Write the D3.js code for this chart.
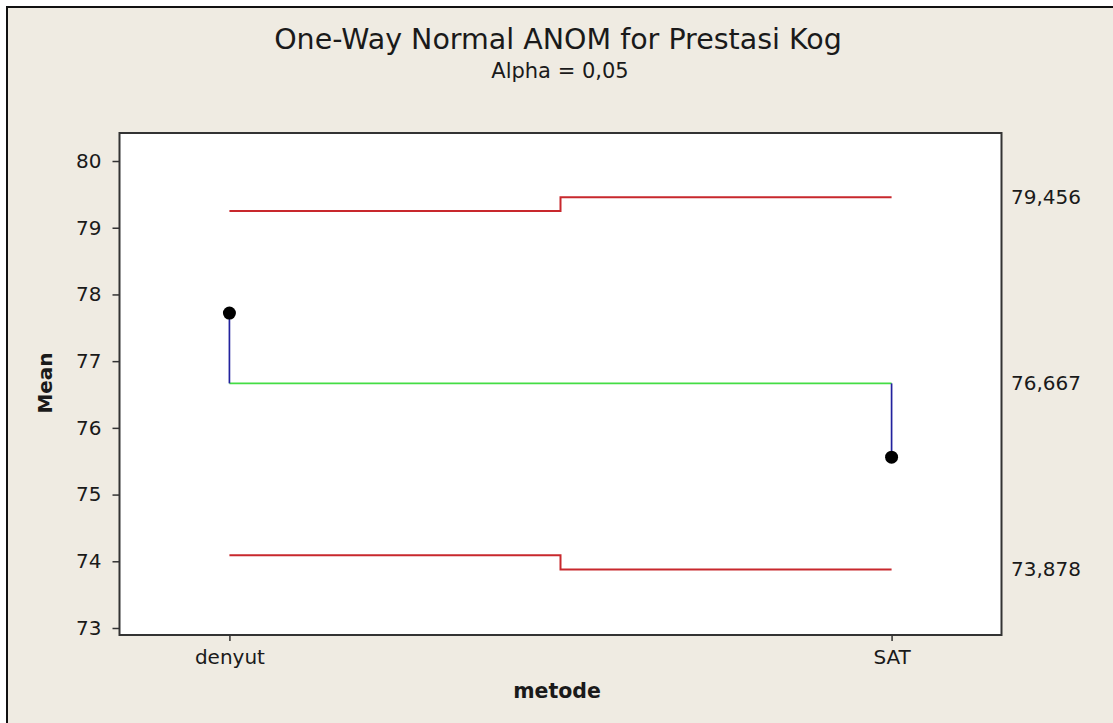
<!DOCTYPE html>
<html>
<head>
<meta charset="utf-8">
<script src="https://cdn.jsdelivr.net/npm/d3@7"></script>
<style>
  html, body { margin: 0; padding: 0; background: #ffffff; }
  svg { display: block; }
  text { font-family: "DejaVu Sans", Verdana, sans-serif; fill: #1a1a1a; }
</style>
</head>
<body>
<svg id="chart" width="1113" height="723"></svg>
<script>
// ---- data ----
const categories = ["denyut", "SAT"];
const means = [77.72, 75.56];
const centerLine = 76.667;
const upperLimits = [79.25, 79.456];
const lowerLimits = [74.09, 73.878];
const yTicks = [73, 74, 75, 76, 77, 78, 79, 80];
const rightLabelValues = [79.456, 76.667, 73.878];
const rightLabelTexts = ["79,456", "76,667", "73,878"];
const titleText = "One-Way Normal ANOM for Prestasi Kog";
const subtitleText = "Alpha = 0,05";
const xLabel = "metode";
const yLabel = "Mean";

// ---- layout ----
const W = 1113, H = 723;
const plot = { left: 119.5, right: 1001.5, top: 133, bottom: 635 };

const svg = d3.select("#chart");

// background
svg.append("rect").attr("x", 7).attr("y", 7).attr("width", W - 7).attr("height", H - 7)
  .attr("fill", "#efebe2");
// outer frame (top & left)
svg.append("path").attr("d", `M7,${H} L7,7 L${W},7`)
  .attr("fill", "none").attr("stroke", "#111").attr("stroke-width", 2);

const x = d3.scalePoint().domain(categories).range([plot.left, plot.right]).padding(0.166);
const y = d3.scaleLinear().domain([72.895, 80.42]).range([plot.bottom, plot.top]);

// plot area
svg.append("rect")
  .attr("x", plot.left).attr("y", plot.top)
  .attr("width", plot.right - plot.left).attr("height", plot.bottom - plot.top)
  .attr("fill", "#ffffff").attr("stroke", "#333").attr("stroke-width", 2);

// title
svg.append("text").attr("x", 558).attr("y", 49).attr("text-anchor", "middle")
  .style("font-size", "28.5px").text(titleText);
svg.append("text").attr("x", 560).attr("y", 78).attr("text-anchor", "middle")
  .style("font-size", "21px").text(subtitleText);

const tickFont = "20px";

// y axis
const yAxis = d3.axisLeft(y).tickValues(yTicks).tickSize(7).tickPadding(11).tickFormat(d3.format("d"));
const gy = svg.append("g").attr("transform", `translate(${plot.left},0)`).call(yAxis);
gy.select(".domain").remove();
gy.selectAll(".tick line").attr("stroke", "#333").attr("stroke-width", 1.5);
gy.selectAll(".tick text").style("font-size", tickFont).attr("fill", "#1a1a1a")
  .style("font-family", "'DejaVu Sans', Verdana, sans-serif");

// x axis
const xAxis = d3.axisBottom(x).tickSize(6).tickPadding(9);
const gx = svg.append("g").attr("transform", `translate(0,${plot.bottom})`).call(xAxis);
gx.select(".domain").remove();
gx.selectAll(".tick line").attr("stroke", "#333").attr("stroke-width", 1.5);
gx.selectAll(".tick text").style("font-size", tickFont).attr("fill", "#1a1a1a")
  .style("font-family", "'DejaVu Sans', Verdana, sans-serif");

// axis labels
svg.append("text").attr("x", 557).attr("y", 698).attr("text-anchor", "middle")
  .style("font-size", "20.5px").style("font-weight", "bold").text(xLabel);
svg.append("text").attr("transform", `translate(52,383) rotate(-90)`).attr("text-anchor", "middle")
  .style("font-size", "20px").style("font-weight", "bold").text(yLabel);

// step lines for decision limits
const xs = categories.map(c => x(c));
const mid = (xs[0] + xs[1]) / 2;
function stepPath(vals) {
  return `M${xs[0]},${y(vals[0])} L${mid},${y(vals[0])} L${mid},${y(vals[1])} L${xs[1]},${y(vals[1])}`;
}
svg.append("path").attr("d", stepPath(upperLimits)).attr("fill", "none")
  .attr("stroke", "#c8282d").attr("stroke-width", 2);
svg.append("path").attr("d", stepPath(lowerLimits)).attr("fill", "none")
  .attr("stroke", "#c8282d").attr("stroke-width", 2);

// center line
svg.append("line").attr("x1", xs[0]).attr("x2", xs[1])
  .attr("y1", y(centerLine)).attr("y2", y(centerLine))
  .attr("stroke", "#44dd44").attr("stroke-width", 1.6);

// stems
svg.selectAll(".stem").data(means).enter().append("line")
  .attr("x1", (d, i) => x(categories[i])).attr("x2", (d, i) => x(categories[i]))
  .attr("y1", y(centerLine)).attr("y2", d => y(d))
  .attr("stroke", "#22229e").attr("stroke-width", 1.7);

// points
svg.selectAll(".pt").data(means).enter().append("circle")
  .attr("cx", (d, i) => x(categories[i])).attr("cy", d => y(d)).attr("r", 6.5)
  .attr("fill", "#000");

// right labels
svg.selectAll(".rl").data(rightLabelValues).enter().append("text")
  .attr("x", 1011).attr("y", d => y(d)).attr("dy", "0.35em")
  .style("font-size", tickFont).text((d, i) => rightLabelTexts[i]);
</script>
</body>
</html>
